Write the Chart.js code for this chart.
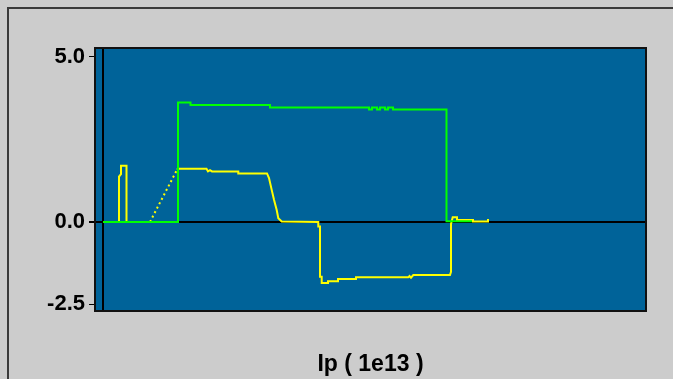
<!DOCTYPE html>
<html>
<head>
<meta charset="utf-8">
<script src="https://cdn.jsdelivr.net/npm/chart.js@4/dist/chart.umd.min.js"></script>
<style>
  html, body { margin: 0; padding: 0; background: #cccccc; overflow: hidden; }
  canvas { display: block; }
</style>
</head>
<body>
<canvas id="c" width="673" height="379"></canvas>
<script>
// Beam current traces, time offset along x
const greenX = [0, 75, 75, 87.5, 87.5, 167, 167, 266, 266, 269, 269, 274, 274, 277, 277, 282,
                282, 285, 285, 290, 290, 343.5, 343.5, 369];
const greenY = [0, 0, 3.62, 3.62, 3.54, 3.54, 3.47, 3.47, 3.41, 3.41, 3.47, 3.47, 3.41, 3.41, 3.47, 3.47,
                3.41, 3.41, 3.47, 3.47, 3.41, 3.41, 0.02, 0.02];

const yellowX = [0, 16, 16, 18, 18, 23.5, 23.5, 47, 74, 75, 103.5, 105, 107, 109, 135.3, 135.3,
                 164, 166, 168.7, 171, 173.7, 175.3, 178.7, 215.3, 215.3, 217, 217, 218.7, 218.7,
                 225, 225, 235, 235, 253, 253, 305.3, 306.5, 308, 310.3, 347, 348, 348, 349.7,
                 354, 354, 370, 370, 385, 385];
const yellowY = [0, 0, 1.37, 1.45, 1.70, 1.70, 0, 0, 1.58, 1.61, 1.61, 1.53, 1.57, 1.53, 1.53, 1.47,
                 1.47, 1.33, 0.97, 0.67, 0.36, 0.11, 0.01, 0, -0.14, -0.14, -1.66, -1.66, -1.85,
                 -1.85, -1.80, -1.80, -1.73, -1.73, -1.68, -1.68, -1.64, -1.69, -1.61, -1.61, -1.51, -0.06, 0.14,
                 0.14, 0.06, 0.06, 0.01, 0.01, 0.09];
// segments starting at these indices were not sampled and are drawn dotted
const yellowGapStarts = [7];

const yTickValues = [-2.5, 0, 5];
const xRefLines = [0];
const axisTitle = 'Ip ( 1e13 )';

const toPoints = (xs, ys) => xs.map((x, i) => ({ x: x, y: ys[i] }));

const panelPlugin = {
  id: 'panel',
  beforeDraw(chart) {
    const { ctx, chartArea: a, width, height } = chart;
    ctx.save();
    ctx.fillStyle = '#cccccc';
    ctx.fillRect(0, 0, width, height);
    // outer frame
    ctx.strokeStyle = '#3a3a3a';
    ctx.lineWidth = 2;
    ctx.beginPath();
    ctx.moveTo(8, height);
    ctx.lineTo(8, 8);
    ctx.lineTo(width, 8);
    ctx.stroke();
    // plot background
    ctx.fillStyle = 'rgb(0,99,153)';
    ctx.fillRect(a.left, a.top, a.right - a.left, a.bottom - a.top);
    ctx.restore();
  },
  afterDatasetsDraw(chart) {
    const { ctx, chartArea: a } = chart;
    ctx.save();
    ctx.strokeStyle = '#111111';
    ctx.lineWidth = 2;
    ctx.strokeRect(a.left, a.top, a.right - a.left, a.bottom - a.top);
    ctx.restore();
  }
};

new Chart(document.getElementById('c'), {
  type: 'scatter',
  data: {
    datasets: [
      {
        data: toPoints(greenX, greenY),
        showLine: true,
        borderColor: '#00ff00',
        borderWidth: 2,
        pointRadius: 0,
        tension: 0
      },
      {
        data: toPoints(yellowX, yellowY),
        showLine: true,
        borderColor: '#ffff00',
        borderWidth: 2,
        pointRadius: 0,
        tension: 0,
        segment: {
          borderDash: ctx => yellowGapStarts.includes(ctx.p0DataIndex) ? [2, 3] : undefined
        }
      }
    ]
  },
  plugins: [panelPlugin],
  options: {
    responsive: false,
    animation: false,
    layout: { padding: { top: 48, right: 27, left: 0, bottom: 0 } },
    plugins: { legend: { display: false }, tooltip: { enabled: false } },
    scales: {
      x: {
        type: 'linear',
        min: -8,
        max: 543,
        afterBuildTicks: s => { s.ticks = xRefLines.map(v => ({ value: v })); },
        afterFit: s => { s.height = 68; },
        ticks: { display: false },
        border: { display: false },
        grid: { color: '#000000', lineWidth: 2, drawTicks: false },
        title: {
          display: true,
          text: axisTitle,
          color: '#000000',
          font: { family: 'Liberation Sans', size: 23, weight: 'bold' },
          padding: { top: 0, bottom: 1 }
        }
      },
      y: {
        min: -2.70,
        max: 5.27,
        afterBuildTicks: s => { s.ticks = yTickValues.map(v => ({ value: v })); },
        afterFit: s => { s.width = 95; },
        border: { display: false },
        grid: {
          color: c => (c.tick && c.tick.value === 0) ? '#000000' : 'rgba(0,0,0,0)',
          tickColor: '#000000',
          lineWidth: c => (c.tick && c.tick.value === 0) ? 2 : 1,
          tickLength: 6
        },
        ticks: {
          color: '#000000',
          padding: 4,
          font: { family: 'Liberation Sans', size: 22, weight: 'bold' },
          callback: v => Number(v).toFixed(1)
        }
      }
    }
  }
});
</script>
</body>
</html>
